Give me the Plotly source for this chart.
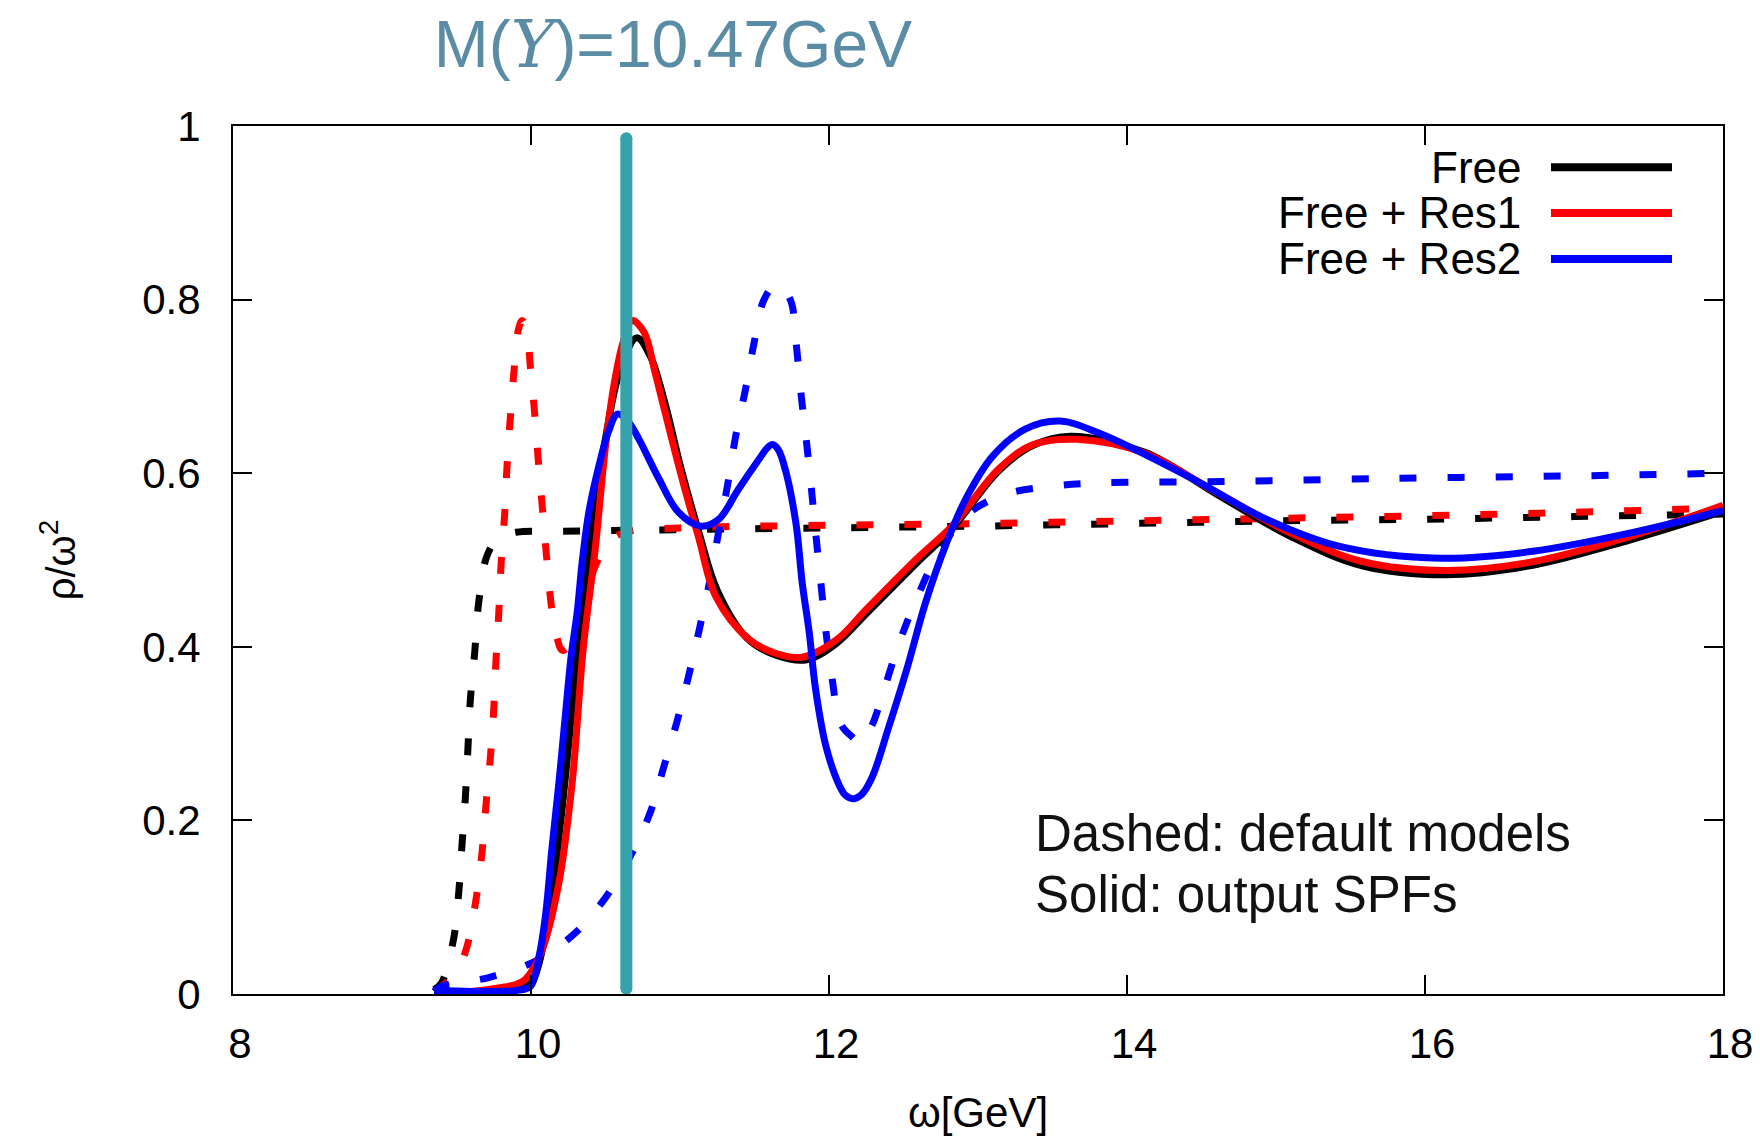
import plotly.graph_objects as go

# ---------------- data ----------------
free_def_x = [9.35, 9.40, 9.48, 9.515, 9.537, 9.56, 9.577, 9.593, 9.622, 9.649, 9.705, 9.78, 9.9,
              10.2, 11.0, 12.0, 13.0, 14.0, 15.0, 16.0, 17.0, 18.0]
free_def_y = [0.005, 0.013, 0.063, 0.117, 0.172, 0.228, 0.284, 0.339, 0.393, 0.451, 0.505, 0.525, 0.532,
              0.533, 0.535, 0.537, 0.539, 0.542, 0.545, 0.547, 0.550, 0.553]

res1_def_x = [9.35, 9.40, 9.50, 9.571, 9.631, 9.671, 9.698, 9.728, 9.75, 9.765, 9.784, 9.80, 9.824, 9.839,
              9.862, 9.887, 9.915, 9.94, 9.97, 9.997, 10.026, 10.052, 10.079, 10.108, 10.142, 10.175,
              10.209, 10.25, 10.33, 10.45, 10.55, 10.66, 11.0, 12.0, 13.0, 14.0, 15.0, 16.0, 17.0, 18.0]
res1_def_y = [0.003, 0.009, 0.025, 0.055, 0.109, 0.163, 0.218, 0.274, 0.328, 0.385, 0.440, 0.497, 0.555,
              0.608, 0.666, 0.720, 0.765, 0.776, 0.765, 0.720, 0.666, 0.608, 0.555, 0.497, 0.440, 0.410,
              0.396, 0.400, 0.440, 0.500, 0.525, 0.533, 0.537, 0.540, 0.542, 0.545, 0.548, 0.551, 0.555, 0.560]

res2_def_x = [9.35, 9.40, 9.716, 10.03, 10.288, 10.50, 10.668, 10.80, 10.89, 10.98, 11.06, 11.14, 11.206,
              11.26, 11.318, 11.374, 11.44, 11.497, 11.564, 11.65, 11.74, 11.778, 11.81, 11.845, 11.878,
              11.91, 11.945, 11.98, 12.02, 12.08, 12.15, 12.22, 12.29, 12.37, 12.47, 12.58, 12.74, 12.94,
              13.19, 13.50, 13.815, 14.5, 15.75, 17.05, 18.0]
res2_def_y = [0.003, 0.009, 0.019, 0.038, 0.069, 0.111, 0.159, 0.209, 0.261, 0.314, 0.368, 0.428, 0.481,
              0.533, 0.585, 0.643, 0.697, 0.750, 0.800, 0.818, 0.800, 0.752, 0.695, 0.642, 0.589,
              0.532, 0.474, 0.417, 0.364, 0.311, 0.297, 0.289, 0.310, 0.351, 0.404, 0.452, 0.510, 0.554,
              0.576, 0.585, 0.589, 0.590, 0.594, 0.597, 0.600]

free_out_x = [9.35, 9.6, 9.8, 9.95, 10.0, 10.1, 10.2, 10.3, 10.4, 10.5, 10.6, 10.71, 10.8, 10.9, 11.0,
              11.13, 11.25, 11.45, 11.65, 11.85, 12.05, 12.25, 12.58, 12.83, 13.14, 13.37, 13.62, 14.12,
              14.61, 15.1, 15.585, 16.139, 16.724, 17.374, 18.0]
free_out_y = [0.003, 0.003, 0.004, 0.008, 0.012, 0.07, 0.20, 0.37, 0.52, 0.64, 0.72, 0.756, 0.735, 0.68,
              0.61, 0.53, 0.465, 0.41, 0.39, 0.385, 0.404, 0.438, 0.495, 0.537, 0.603, 0.632, 0.6425, 0.624,
              0.575, 0.527, 0.493, 0.483, 0.494, 0.523, 0.556]

res1_out_x = [9.35, 9.6, 9.78, 9.9, 9.963, 10.075, 10.187, 10.276, 10.35, 10.433, 10.50, 10.56, 10.62,
              10.68, 10.76, 10.83, 10.90, 11.015, 11.128, 11.24, 11.46, 11.65, 11.82, 12.05, 12.25, 12.58,
              12.83, 13.14, 13.37, 13.666, 14.12, 14.61, 15.10, 15.585, 16.139, 16.724, 17.374, 18.0]
res1_out_y = [0.002, 0.003, 0.007, 0.011, 0.017, 0.051, 0.128, 0.243, 0.397, 0.516, 0.631, 0.705, 0.752,
              0.776, 0.762, 0.718, 0.670, 0.593, 0.524, 0.458, 0.409, 0.392, 0.388, 0.408, 0.443, 0.500,
              0.540, 0.605, 0.633, 0.639, 0.623, 0.577, 0.531, 0.498, 0.488, 0.498, 0.527, 0.563]

res2_out_x = [9.35, 9.6, 9.78, 9.90, 9.997, 10.05, 10.097, 10.14, 10.187, 10.23, 10.27, 10.31, 10.343,
              10.388, 10.455, 10.52, 10.58, 10.65, 10.725, 10.86, 10.99, 11.14, 11.26, 11.39, 11.53,
              11.58, 11.62, 11.66, 11.71, 11.78, 11.82, 11.867, 11.91, 11.98, 12.07, 12.11, 12.16, 12.22,
              12.29, 12.40, 12.52, 12.65, 12.785, 12.92, 13.10, 13.32, 13.55, 13.815, 14.447, 14.935,
              15.42, 16.106, 16.724, 17.374, 18.0]
res2_out_y = [0.004, 0.003, 0.003, 0.004, 0.009, 0.040, 0.090, 0.167, 0.243, 0.320, 0.390, 0.440, 0.497,
              0.555, 0.608, 0.648, 0.668, 0.660, 0.639, 0.593, 0.555, 0.539, 0.547, 0.581, 0.616,
              0.628, 0.633, 0.627, 0.602, 0.540, 0.474, 0.417, 0.351, 0.285, 0.240, 0.229, 0.225, 0.230,
              0.250, 0.307, 0.373, 0.452, 0.518, 0.571, 0.620, 0.651, 0.660, 0.646, 0.593, 0.547,
              0.516, 0.502, 0.510, 0.531, 0.557]

marker_x = [10.64, 10.64]
marker_y = [0.006, 0.986]

x_ticks = [8, 10, 12, 14, 16, 18]
y_ticks = [0, 0.2, 0.4, 0.6, 0.8, 1]

legend_labels = ["Free", "Free + Res1", "Free + Res2"]
legend_colors = ["#000000", "#ff0000", "#0000ff"]

# ---------------- figure ----------------
W, H = 1760, 1136
LW = 7
DASH = "17px,31px"
FONT = "Liberation Sans, Arial, Helvetica, sans-serif"

fig = go.Figure()

def add(x, y, color, dash):
    fig.add_trace(go.Scatter(x=x, y=y, mode="lines", showlegend=False, hoverinfo="skip",
                             line=dict(color=color, width=LW, dash=dash, shape="spline", smoothing=1.0)))

add(free_def_x, free_def_y, "#000000", DASH)
add(res1_def_x, res1_def_y, "#ff0000", DASH)
add(res2_def_x, res2_def_y, "#0000ff", DASH)
add(free_out_x, free_out_y, "#000000", "solid")
add(res1_out_x, res1_out_y, "#ff0000", "solid")
add(res2_out_x, res2_out_y, "#0000ff", "solid")

# teal marker bar
fig.add_trace(go.Scatter(x=marker_x, y=marker_y, mode="lines+markers", showlegend=False, hoverinfo="skip",
                         line=dict(color="#36a3ac", width=12),
                         marker=dict(color="#36a3ac", size=12, line=dict(width=0))))

axis_common = dict(showline=True, linewidth=2, linecolor="black", mirror="ticks", ticks="inside",
                   ticklen=19, tickwidth=2, tickcolor="black", showgrid=False, zeroline=False,
                   tickfont=dict(family=FONT, size=42, color="black"))

fig.update_xaxes(range=[8, 18], tickvals=x_ticks, ticklabelstandoff=12, ticklabelshift=7,
                 title=dict(text="ω[GeV]", font=dict(family=FONT, size=42, color="black"), standoff=38),
                 **axis_common)
fig.update_yaxes(range=[0, 1], tickvals=y_ticks, ticklabelstandoff=22,
                 title=dict(text="ρ/ω<sup>2</sup>", font=dict(family=FONT, size=40, color="black"), standoff=54),
                 **axis_common)

L, R, T, B = 233.3, 1723.0, 126.4, 994.4
pw, ph = R - L, B - T
def px(x):
    return (x - L) / pw
def py(y):
    return (B - y) / ph

annotations = []
shapes = []
rows_y = [167.7, 213.3, 259.3]
for lab, col, yy in zip(legend_labels, legend_colors, rows_y):
    annotations.append(dict(text=lab, xref="paper", yref="paper", x=px(1523), y=py(yy),
                            xanchor="right", yanchor="middle", showarrow=False,
                            font=dict(family=FONT, size=44, color="black")))
    shapes.append(dict(type="line", xref="paper", yref="paper", x0=px(1551), x1=px(1672),
                       y0=py(yy), y1=py(yy), line=dict(color=col, width=8)))

annotations.append(dict(text="Dashed: default models", xref="paper", yref="paper", x=px(1033), y=py(834),
                        xanchor="left", yanchor="middle", showarrow=False,
                        font=dict(family=FONT, size=51, color="#111111")))
annotations.append(dict(text="Solid: output SPFs", xref="paper", yref="paper", x=px(1033), y=py(895),
                        xanchor="left", yanchor="middle", showarrow=False,
                        font=dict(family=FONT, size=51, color="#111111")))

fig.update_layout(
    width=W, height=H,
    margin=dict(l=L, r=W - R, t=T, b=H - B, autoexpand=False),
    paper_bgcolor="white", plot_bgcolor="white",
    title=dict(text="M(<span style=\"font-family:'DejaVu Serif', serif\"><i>Υ</i></span>)=10.47GeV",
               x=673 / W, y=1 - 44 / H, xref="container", yref="container",
               xanchor="center", yanchor="middle",
               font=dict(family=FONT, size=66, color="#5b8ca6")),
    annotations=annotations, shapes=shapes,
)

fig.write_html("out.html")
